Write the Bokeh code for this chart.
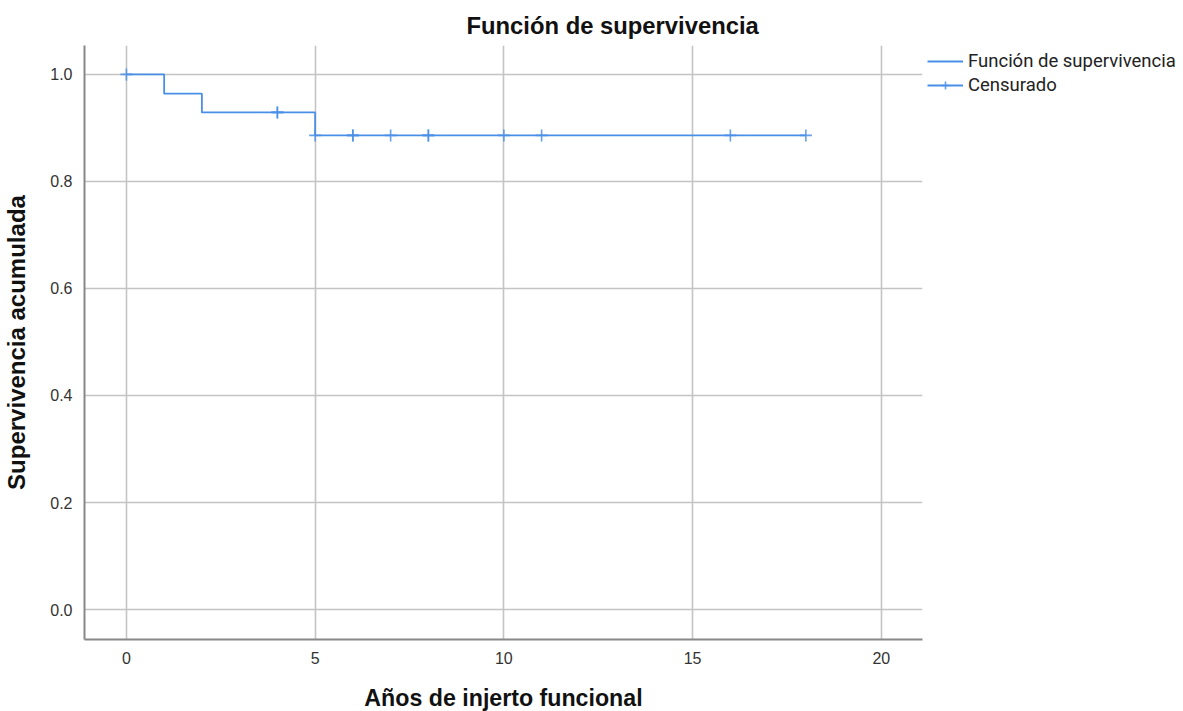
from bokeh.plotting import figure
from bokeh.models import Range1d, FixedTicker, Legend, LegendItem, Title, NumeralTickFormatter, ColumnDataSource
from bokeh.embed import file_html
from bokeh.resources import INLINE

# Kaplan-Meier survival steps
step_times = [0, 1, 2, 5, 18]
step_surv = [1.0, 0.964, 0.929, 0.886, 0.886]

# Censored observations (duplicates = several censored at same time)
cens_times = [0, 4, 4, 5, 6, 6, 7, 8, 8, 10, 11, 16, 18]
cens_surv = [1.0, 0.929, 0.929, 0.886, 0.886, 0.886, 0.886, 0.886, 0.886, 0.886, 0.886, 0.886, 0.886]

x_ticks = [0, 5, 10, 15, 20]
y_ticks = [0.0, 0.2, 0.4, 0.6, 0.8, 1.0]

BLUE = "#4a8fe7"

p = figure(frame_width=838, frame_height=594, output_backend="svg", toolbar_location=None,
           x_range=Range1d(-1.11, 21.09), y_range=Range1d(-0.056, 1.054),
           min_border_left=76, min_border_top=45, min_border_bottom=60, min_border_right=0)

p.outline_line_color = None
p.background_fill_color = "white"
p.border_fill_color = "white"

p.title = Title(text="Función de supervivencia", text_font="Liberation Sans",
                text_font_size="23.8px", text_font_style="bold", text_color="#111111",
                align="left", offset=382, standoff=13)

for ax in (p.xaxis[0], p.yaxis[0]):
    ax.axis_line_color = "#888888"
    ax.axis_line_width = 2
    ax.major_tick_line_color = None
    ax.minor_tick_line_color = None
    ax.major_label_text_font = "Liberation Sans"
    ax.major_label_text_font_size = "16px"
    ax.major_label_text_color = "#333333"
    ax.axis_label_text_font = "Liberation Sans"
    ax.axis_label_text_font_style = "bold"
    ax.axis_label_text_color = "#111111"

p.xaxis.axis_label_text_font_size = "23.2px"
p.yaxis.axis_label_text_font_size = "24px"
p.xaxis.ticker = FixedTicker(ticks=x_ticks)
p.yaxis.ticker = FixedTicker(ticks=y_ticks)
p.yaxis.formatter = NumeralTickFormatter(format="0.0")
p.xaxis.axis_label = "Años de injerto funcional"
p.yaxis.axis_label = "Supervivencia acumulada"
p.xaxis.major_label_standoff = 6
p.yaxis.major_label_standoff = 6
p.xaxis.axis_label_standoff = 18
p.yaxis.axis_label_standoff = 17

p.xgrid.ticker = FixedTicker(ticks=x_ticks)
p.ygrid.ticker = FixedTicker(ticks=y_ticks)
for g in (p.xgrid[0], p.ygrid[0]):
    g.grid_line_color = "#c4c4c4"
    g.grid_line_width = 1.6

step_r = p.step(x=step_times, y=step_surv, mode="after", line_color=BLUE, line_width=1.8)
cens_src = ColumnDataSource(dict(t=cens_times, s=cens_surv))
cross_r = p.scatter(x="t", y="s", source=cens_src, marker="cross", size=12,
                    line_color=BLUE, line_width=1.6, line_alpha=0.85)

legend = Legend(items=[
    LegendItem(label="Función de supervivencia", renderers=[step_r]),
    LegendItem(label="Censurado", renderers=[step_r, cross_r]),
], location="top_left")
legend.border_line_color = None
legend.background_fill_alpha = 0
legend.label_text_font = "Roboto"
legend.label_text_font_size = "18.5px"
legend.label_text_color = "#222222"
legend.glyph_width = 36
legend.glyph_height = 20
legend.label_height = 20
legend.label_standoff = 5
legend.spacing = 2
legend.padding = 0
legend.margin = 5
p.add_layout(legend, "right")

open("out.html", "w").write(file_html(p, INLINE))
